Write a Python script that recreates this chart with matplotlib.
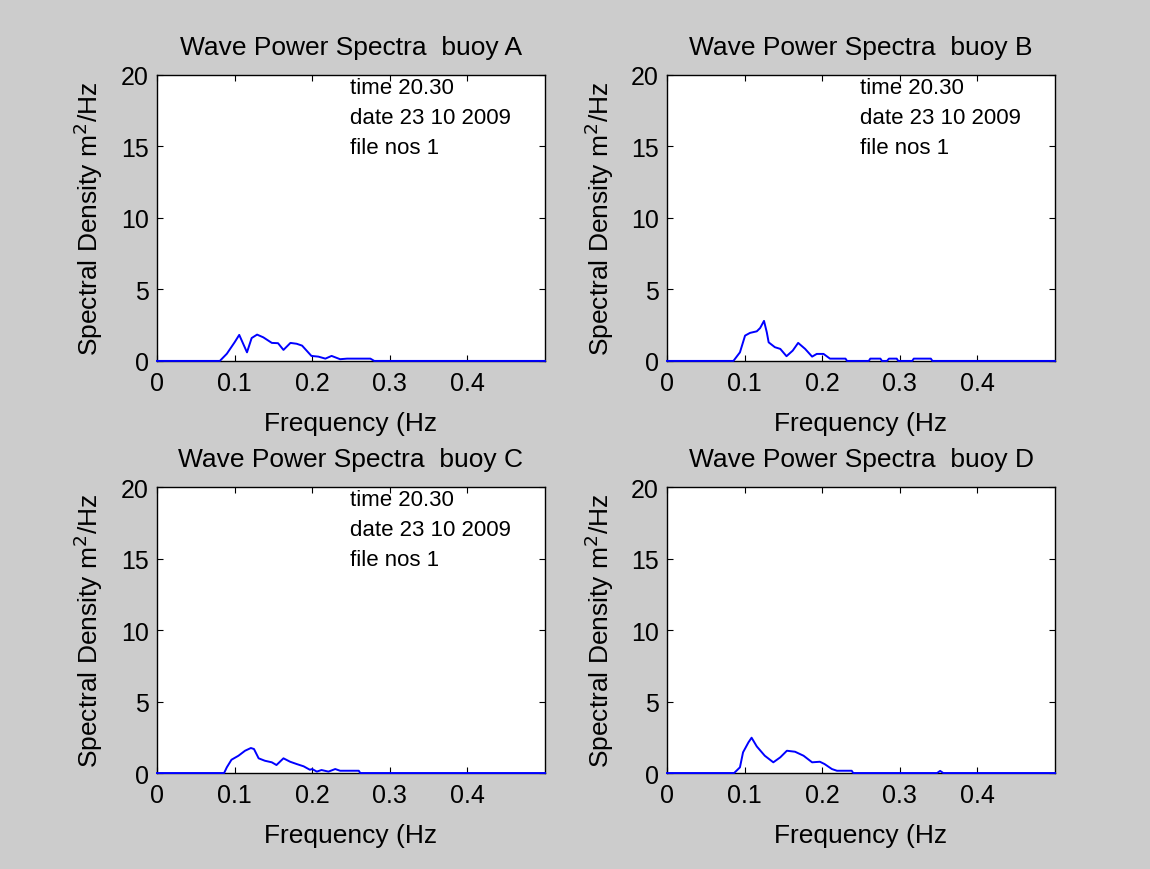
import matplotlib.pyplot as plt
import numpy as np

plt.rcParams['font.family'] = ['Liberation Sans', 'DejaVu Sans']

# --- spectra (frequency Hz, density m^2/Hz) ---
freq_a = [0, 0.081, 0.09, 0.10, 0.106, 0.116, 0.122, 0.129, 0.137, 0.148, 0.156,
          0.163, 0.172, 0.180, 0.187, 0.199, 0.208, 0.217, 0.225, 0.236, 0.245,
          0.275, 0.28, 0.5]
spec_a = [0, 0, 0.5, 1.3, 1.82, 0.6, 1.6, 1.84, 1.65, 1.26, 1.24,
          0.77, 1.26, 1.2, 1.07, 0.35, 0.3, 0.16, 0.35, 0.12, 0.16,
          0.16, 0, 0]

freq_b = [0, 0.0856, 0.094, 0.1006, 0.107, 0.1157, 0.12, 0.125, 0.1286, 0.131,
          0.139, 0.146, 0.154, 0.162, 0.169, 0.178, 0.187, 0.193, 0.2017, 0.21,
          0.23, 0.232, 0.26, 0.262, 0.275, 0.277, 0.2835, 0.286, 0.296, 0.298,
          0.316, 0.318, 0.34, 0.342, 0.5]
spec_b = [0, 0, 0.6, 1.77, 1.96, 2.07, 2.3, 2.8, 2.0, 1.3,
          0.96, 0.84, 0.33, 0.72, 1.26, 0.84, 0.3, 0.49, 0.49, 0.16,
          0.16, 0, 0, 0.16, 0.16, 0, 0, 0.16, 0.16, 0,
          0, 0.16, 0.16, 0, 0]

freq_c = [0, 0.0865, 0.09, 0.096, 0.105, 0.1135, 0.121, 0.125, 0.131, 0.139,
          0.148, 0.154, 0.163, 0.1716, 0.18, 0.189, 0.197, 0.2, 0.206, 0.212,
          0.221, 0.2297, 0.236, 0.26, 0.262, 0.5]
spec_c = [0, 0, 0.4, 0.93, 1.21, 1.56, 1.75, 1.68, 1.03, 0.86,
          0.75, 0.56, 1.03, 0.79, 0.63, 0.47, 0.23, 0.28, 0.1, 0.21,
          0.1, 0.28, 0.16, 0.16, 0, 0]

freq_d = [0, 0.0865, 0.094, 0.098, 0.105, 0.109, 0.1157, 0.126, 0.137, 0.146,
          0.1545, 0.165, 0.176, 0.187, 0.197, 0.203, 0.2125, 0.219, 0.238, 0.24,
          0.348, 0.352, 0.356, 0.5]
spec_d = [0, 0, 0.4, 1.45, 2.15, 2.47, 1.86, 1.21, 0.75, 1.1,
          1.56, 1.49, 1.21, 0.75, 0.79, 0.63, 0.28, 0.16, 0.16, 0,
          0, 0.15, 0, 0]

buoys = ['A', 'B', 'C', 'D']
freqs = [freq_a, freq_b, freq_c, freq_d]
specs = [spec_a, spec_b, spec_c, spec_d]
info_lines = ['time 20.30', 'date 23 10 2009', 'file nos 1']
show_info = [True, True, True, False]

x_ticks = [0, 0.1, 0.2, 0.3, 0.4]
y_ticks = [0, 5, 10, 15, 20]

fig = plt.figure(figsize=(11.5, 8.7), dpi=100, facecolor='#cccccc')

# axes boxes in figure fractions (left, bottom, width, height)
positions = [
    (0.1365, 0.584, 0.3374, 0.3287),
    (0.580, 0.584, 0.3374, 0.3287),
    (0.1365, 0.1103, 0.3374, 0.3287),
    (0.580, 0.1103, 0.3374, 0.3287),
]

for pos, buoy, f, s, info in zip(positions, buoys, freqs, specs, show_info):
    ax = fig.add_axes(pos)
    ax.plot(f, s, color='#0000ff', linewidth=1.4, clip_on=False, zorder=3)
    ax.set_xlim(0, 0.5)
    ax.set_ylim(0, 20)
    ax.set_xticks(x_ticks)
    ax.set_xticklabels([f"{t:g}" for t in x_ticks])
    ax.set_yticks(y_ticks)
    ax.tick_params(direction='in', top=True, right=True, length=4,
                   labelsize=18)
    ax.tick_params(axis='x', pad=7)
    ax.tick_params(axis='y', pad=6)
    for sp in ax.spines.values():
        sp.set_linewidth(1.0)
    ax.set_title(f"Wave Power Spectra  buoy {buoy}", fontsize=19, pad=15)
    ax.set_xlabel("Frequency (Hz", fontsize=19, labelpad=12)
    ax.set_ylabel("Spectral Density m$^2$/Hz", fontsize=19, labelpad=11)
    if info:
        for yv, line in zip([19.1, 17.0, 14.9], info_lines):
            ax.text(0.249, yv, line, fontsize=16, va='center', ha='left')

fig.savefig('out.png', dpi=100, facecolor=fig.get_facecolor())
